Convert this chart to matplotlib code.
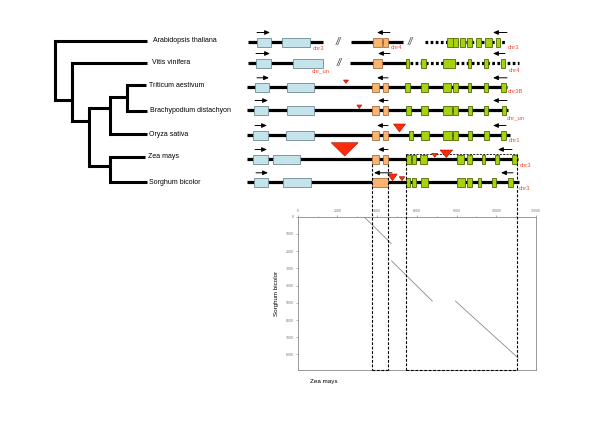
import matplotlib.pyplot as plt
from matplotlib.patches import Rectangle, Polygon

plt.rcParams['font.family'] = ['Liberation Sans', 'DejaVu Sans']

# ---- tree ----
species = ['Arabidopsis thaliana', 'Vitis vinifera', 'Triticum aestivum',
           'Brachypodium distachyon', 'Oryza sativa', 'Zea mays', 'Sorghum bicolor']
tip_y = [41, 62.7, 85.3, 110.7, 134, 156.7, 182.3]
tip_x = [147, 147, 146, 147, 147, 145, 147]
label_x = [153, 151.5, 149, 149.5, 149, 148.5, 149]
# internal nodes: name, x, y, children
nodes = [
    ('TB', 127, 97.3, [2, 3]),
    ('TBO', 110, 108.3, ['TB', 4]),
    ('ZS', 110, 165.7, [5, 6]),
    ('grass', 89, 120.7, ['TBO', 'ZS']),
    ('VG', 72, 100, [1, 'grass']),
    ('root', 55, 70, [0, 'VG']),
]

# ---- gene structures (one entry per species row) ----
row_y = [42, 63, 87.3, 110, 135, 159, 182.3]
solid_segs = [[(248, 323), (351, 403)], [(248, 323), (350, 406)], [(247, 507)],
              [(247, 508)], [(247, 510)], [(247, 518)], [(247, 519)]]
dotted_segs = [[(425, 506)], [(410, 519)], [], [], [], [], []]
blue_exons = [[(256.7, 270.7), (282.3, 310)], [(255.7, 270.7), (293.3, 322.7)],
              [(255, 269.3), (286.7, 314)], [(254.3, 268.3), (286.7, 314.3)],
              [(253.3, 267.7), (286, 314)], [(253.3, 267.7), (273.3, 300)],
              [(254.3, 268.3), (283.3, 310.7)]]
orange_exons = [[(373.3, 381.7), (383.3, 387.7)], [(372.7, 382.3)],
                [(371.7, 379.3), (382.7, 387.7)], [(371.7, 379), (382.7, 387.7)],
                [(371.7, 379.3), (382.7, 387.7)], [(372.3, 379.3), (383.3, 387.7)],
                [(371.7, 387.7)]]
green_exons = [
    [(447.3, 452.7), (453.3, 457.7), (460, 465), (466.7, 471.7), (476, 481), (485, 491.7), (496, 500)],
    [(406, 409), (420.7, 426), (443.3, 455), (467.7, 470.7), (484.3, 488.3), (501, 505)],
    [(405, 410), (420.7, 427.7), (443.3, 451), (452.7, 457.7), (467.7, 470.7), (484, 488.3), (501, 505.7)],
    [(405.7, 410.7), (421, 428.3), (443.3, 451.7), (453.3, 458.3), (468.3, 471.7), (484.3, 488.3), (501.7, 506)],
    [(409, 412.7), (421, 429), (443.3, 451.7), (453.3, 458.3), (468.3, 471.7), (484, 489), (501, 506)],
    [(405.7, 410.7), (412.3, 415.7), (420, 427.3), (456.7, 464), (466.7, 471.7), (481.7, 485), (495, 499.3), (512.3, 516.7)],
    [(405.7, 410), (412.3, 415.7), (420.7, 427.7), (457.3, 465), (467.3, 471.7), (478.3, 481), (491.7, 496), (508.3, 513.3)],
]
# arrows (start, end) for direction of transcription
arrows = [
    [(257, 270), (390, 377), (507, 493)],
    [(256, 270), (390, 378), (505, 493)],
    [(257, 269), (388, 377), (507, 493)],
    [(255, 268), (388, 378), (507, 493)],
    [(255, 267), (388, 377), (506, 493)],
    [(255, 267), (388, 378), (512, 498)],
    [(256, 268), (392, 374), (513, 501)],
]
# chromosome labels (x, y, text)
chr_labels = [
    [(313, 48, 'chr3'), (391, 47.5, 'chr4'), (508, 47.5, 'chr3')],
    [(312, 71, 'chr_un'), (509, 70, 'chr4')],
    [(508, 91.5, 'chr3B')],
    [(507, 118, 'chr_un')],
    [(509, 141, 'chr1')],
    [(520, 165.5, 'chr3')],
    [(519, 188.5, 'chr3')],
]
breaks = [(338, 42), (410, 42), (339, 63)]
# insertions (centre x, top y, width, height)
insertions = [(346, 80, 5, 3.5), (359.3, 105, 5, 3.5), (399.5, 124, 12, 8),
              (344.7, 142.7, 27, 13.3), (434.7, 153.3, 6, 4), (446.3, 150, 12.7, 7.5),
              (392.5, 174, 9.6, 6.7), (402, 176.7, 5.7, 4)]

# ---- dot plot (Zea mays vs Sorghum bicolor) ----
zea_len = 11900
sorghum_len = 8900
dot_segments = [((3365, 35), (4700, 1550)), ((4730, 2570), (6780, 4900)),
                ((7945, 4900), (11100, 8200))]

fig = plt.figure(figsize=(6, 4.24), dpi=100)

# dot plot axes
L, R, T, B = 297.7, 536, 216.7, 370
dax = fig.add_axes([L / 600, 1 - B / 424, (R - L) / 600, (B - T) / 424])
for (x0, y0), (x1, y1) in dot_segments:
    dax.plot([x0, x1], [y0, y1], color='#8a8a8a', lw=0.6)
dax.set_xlim(0, zea_len)
dax.set_ylim(sorghum_len, 0)
dax.xaxis.tick_top()
dax.set_xticks(range(0, 12001, 2000))
dax.set_xticks(range(0, 12001, 1000), minor=True)
dax.set_yticks(range(0, 8001, 1000))
dax.tick_params(which='both', labelsize=2.5, length=1.5, width=0.4, colors='#777777', pad=1)
dax.tick_params(which='minor', length=1)
for s in dax.spines.values():
    s.set_color('#888888')
    s.set_linewidth(0.6)
dax.set_ylabel('Sorghum bicolor', fontsize=4.5, labelpad=5)
dax.text(0.05, -0.06, 'Zea mays', transform=dax.transAxes, fontsize=4.5, va='top')

# overlay axes in pixel units
ax = fig.add_axes([0, 0, 1, 1])
ax.set_xlim(0, 600)
ax.set_ylim(424, 0)
ax.axis('off')

# tree
pos = {}
for i in range(len(species)):
    pos[i] = (tip_x[i], tip_y[i])
for name, x, y, children in nodes:
    pos[name] = (x, y)
for name, x, y, children in nodes:
    ys = [pos[c][1] for c in children]
    ax.plot([x, x], [min(ys), max(ys)], color='k', lw=2.2, solid_capstyle='projecting')
    for c in children:
        cx, cy = pos[c]
        ax.plot([x, cx], [cy, cy], color='k', lw=2.2, solid_capstyle='butt')
for i, sp in enumerate(species):
    ax.text(label_x[i], tip_y[i], sp, fontsize=5, va='center', ha='left')

# genes
for r, y in enumerate(row_y):
    for x0, x1 in solid_segs[r]:
        ax.plot([x0, x1], [y, y], color='k', lw=2.3, solid_capstyle='butt', zorder=2)
    for x0, x1 in dotted_segs[r]:
        ax.plot([x0, x1], [y, y], color='k', lw=2.3, ls=(0, (0.85, 0.75)),
                dash_capstyle='butt', zorder=2)
    for exons, fc, ec in [(blue_exons[r], '#c4e3ea', '#6d8c96'),
                          (orange_exons[r], '#fbb46e', '#a8703e'),
                          (green_exons[r], '#a6d20e', '#4f6a00')]:
        for x0, x1 in exons:
            ax.add_patch(Rectangle((x0, y - 4.5), x1 - x0, 9, facecolor=fc,
                                   edgecolor=ec, lw=0.6, zorder=3))
    for x0, x1 in arrows[r]:
        ax.annotate('', xy=(x1, y - 9.5), xytext=(x0, y - 9.5),
                    arrowprops=dict(arrowstyle='-|>,head_length=0.3,head_width=0.13',
                                    color='k', lw=0.7, shrinkA=0, shrinkB=0))
    for x, yy, t in chr_labels[r]:
        ax.text(x, yy, t, fontsize=4.2, color='#f04a3a', ha='left', va='center')

for x, y in breaks:
    ax.text(x, y, '//', fontsize=7, color='#444444', style='italic', ha='center', va='center')

for cx, top, w, h in insertions:
    ax.add_patch(Polygon([(cx - w / 2, top), (cx + w / 2, top), (cx, top + h)],
                         closed=True, facecolor='#ff2a0a', edgecolor='#a01000',
                         lw=0.4, zorder=4))

# dashed boxes linking Zea mays regions to the dot plot
dash = dict(color='k', lw=0.8, ls=(0, (2.5, 1.5)), zorder=5)
for x0, x1, top in [(372.3, 387.7, 164), (405.7, 517.3, 154.3)]:
    ax.plot([x0, x0], [top, B], **dash)
    ax.plot([x1, x1], [top, B], **dash)
    ax.plot([x0, x1], [B, B], **dash)
ax.plot([405.7, 517.3], [154.3, 154.3], color='k', lw=0.6, ls=(0, (2.5, 1.5)), zorder=1)

fig.savefig('out.png', dpi=100)
